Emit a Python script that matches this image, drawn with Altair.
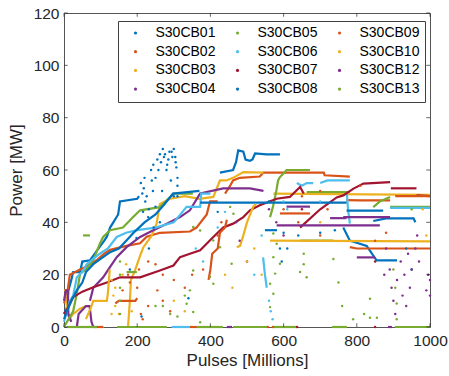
import altair as alt
import pandas as pd

W, H = 366, 314

series = ["S30CB01", "S30CB02", "S30CB03", "S30CB04", "S30CB05", "S30CB06",
          "S30CB07", "S30CB08", "S30CB09", "S30CB10", "S30CB12", "S30CB13"]
colors = ["#0072BD", "#D95319", "#EDB120", "#7E2F8E", "#77AC30", "#4DBEEE",
          "#A2142F", "#0072BD", "#D95319", "#EDB120", "#7E2F8E", "#77AC30"]

x_ticks = [0, 200, 400, 600, 800, 1000]
y_ticks = [0, 20, 40, 60, 80, 100, 120]

# ---- series traces (x in millions of pulses, y in MW) ----
s01_lines = [
    [(0, 5), (10, 8), (12, 14), (20, 18), (25, 21), (44, 21), (50, 25), (71, 25.5), (89, 29), (110, 33),
     (117, 34.5), (126, 38), (148, 43), (153, 48), (200, 49), (205, 50)],
    [(426, 59), (462, 60), (470, 63), (476, 67.5), (490, 67), (496, 64), (508, 63.5), (515, 64),
     (522, 66.3), (553, 66), (590, 66)],
]
s01_dots = [(210, 55), (214, 51), (220, 57), (226, 50), (232, 45), (238, 60), (244, 62), (250, 57), (255, 64),
            (262, 66), (270, 68), (276, 66), (282, 62), (288, 67), (294, 67), (300, 68), (304, 65), (307, 61),
            (310, 57), (300, 50), (268, 52), (250, 46), (245, 38), (232, 30), (262, 40), (292, 56), (280, 60),
            (198, 34), (180, 22), (212, 4), (340, 11), (420, 44), (560, 48), (218, 53), (222, 48), (240, 56),
            (243, 52), (258, 60), (265, 63), (273, 65), (285, 64), (296, 65), (305, 63), (310, 54), (310, 50),
            (230, 42), (216, 44)]

s02_lines = [
    [(0, 9), (8, 12), (16, 20), (44, 22), (60, 23), (89, 25.5), (110, 28), (126, 29.5), (171, 31), (208, 32),
     (226, 34.5), (262, 36), (344, 36.5), (362, 38), (390, 43), (399, 48), (420, 48)],
    [(440, 51), (454, 54), (462, 56), (480, 57), (535, 57.5), (545, 59), (640, 59), (710, 59), (712, 58),
     (781, 57.5)],
    [(771, 48.5), (809, 48.4), (891, 48.4)],
    [(344, 0), (363, 0)],
]
s02_dots = [(420, 35), (430, 40), (600, 45), (650, 50), (700, 52), (810, 54), (557, 0), (571, 0)]

s03_lines = [
    [(0, 14), (5, 14), (8, 6), (15, 3), (25, 5), (44, 7), (60, 8), (71, 8)],
    [(175, 0), (180, 10), (183, 18), (195, 22), (210, 28), (217, 30.5), (240, 35), (253, 39.5), (262, 47),
     (290, 49), (330, 50), (370, 49), (408, 49.7), (426, 56), (444, 56), (462, 57), (490, 59.2), (545, 59)],
    [(572, 51), (1000, 50.5)],
    [(102, 0), (108, 0)],
]
s03_dots = [(130, 18), (135, 12), (140, 8), (150, 5), (160, 20), (170, 24), (185, 6), (300, 10), (330, 6)]

s04_lines = [
    [(0, 10), (5, 14), (10, 14), (12, 5), (20, 2)],
    [(35, 0), (40, 5), (60, 8), (70, 8), (75, 2), (80, 0)],
    [(71, 10), (80, 15), (107, 19), (126, 23), (144, 26.7), (171, 30.5), (208, 34.4), (244, 37), (281, 39.5),
     (317, 42), (344, 44.6), (372, 51), (435, 53), (508, 53), (545, 52)],
    [(608, 46), (672, 46)],
    [(445, 0), (459, 0)],
]
s04_dots = [(560, 45), (580, 40), (600, 35), (470, 40), (480, 33), (500, 25)]

s05_lines = [
    [(0, 0), (25, 6), (35, 12.7), (44, 20.4), (60, 22), (80, 25.5), (98, 31.8), (107, 34.4), (126, 37),
     (161, 38), (189, 42), (208, 44.6), (262, 45.8), (299, 51), (352, 51)],
    [(52, 35), (71, 35)],
    [(171, 21), (199, 21)],
    [(563, 42), (571, 46), (580, 52), (585, 56), (590, 57.3), (599, 58.6), (608, 60), (672, 60)],
    [(663, 51.6), (781, 51.6)],
    [(845, 45.8), (863, 48), (891, 49.7)],
    [(891, 45.9), (1000, 45.9)],
    [(645, 33), (736, 33)],
]
s05_dots = [(454, 45.9), (463, 43.3), (372, 36.9), (353, 38.2), (408, 33.1), (426, 30.5), (458, 24.2),
            (353, 21.6), (399, 19.1), (344, 14), (408, 16.5), (335, 8.9), (353, 5.7), (372, 1.8),
            (572, 35.7), (581, 31.8), (572, 26.7), (590, 24.2), (577, 20.4), (563, 16.5), (572, 12.7),
            (563, 7.6), (655, 28), (655, 24), (645, 21), (663, 19), (736, 26), (750, 17), (836, 10.8),
            (790, 3), (836, 3.5), (855, 3.5), (900, 22), (905, 15), (909, 9), (909, 3), (153, 20), (153, 15),
            (153, 10), (153, 5), (153, 25), (250, 8), (270, 8), (290, 5), (310, 4), (330, 12)]

s06_lines = [
    [(0, 2), (8, 6), (16, 10), (25, 12), (35, 19), (50, 21), (62, 24), (80, 26), (98, 28), (120, 30),
     (144, 34.4), (170, 36), (200, 37), (250, 38), (300, 40), (335, 45.9), (372, 45.9), (375, 51), (400, 51)],
    [(636, 55), (650, 54), (663, 55), (681, 55)],
    [(700, 55), (720, 56), (781, 56)],
    [(773, 51), (776, 45), (781, 39.5)],
    [(544, 26.6), (549, 20), (554, 15)],
    [(891, 45.5), (1000, 45.5)],
    [(294, 0), (344, 0)],
]
s06_dots = [(560, 10), (565, 6), (570, 3), (520, 20), (540, 35), (600, 48), (610, 45), (700, 48), (420, 38),
            (440, 44), (360, 30), (380, 25)]

s07_lines = [
    [(0, 5), (7, 6.3), (25, 11.4), (50, 13.5), (80, 15.2), (117, 17), (153, 19), (208, 19), (262, 21.6),
     (299, 23.5), (317, 26.7), (344, 28), (372, 29.3), (408, 34.4), (435, 38), (462, 39.5), (490, 42),
     (508, 44.6), (535, 46.5), (581, 49), (617, 49.7), (645, 53.5), (655, 51)],
    [(645, 38), (700, 45), (745, 49.5), (763, 50.3), (791, 52.9), (818, 54.8), (891, 55.4)],
    [(893, 53), (963, 53)],
    [(963, 50.3), (1000, 50)],
]
s07_dots = [(637, 0), (850, 0), (650, 45), (850, 25)]

s08_lines = [
    [(0, 3), (8, 6), (20, 10), (35, 14), (50, 17), (60, 21), (80, 24), (100, 26), (126, 28.6), (150, 30),
     (170, 33), (190, 36), (220, 40), (250, 43), (275, 47), (298, 51), (370, 52)],
    [(372, 47.5), (772, 47.5)],
    [(772, 44.5), (872, 44.5)],
    [(845, 40.5), (880, 41.5), (955, 41.5), (960, 40)],
    [(549, 37), (582, 37)],
    [(763, 38), (781, 33), (827, 31), (854, 25.5), (910, 25.5)],
]
s08_dots = [(590, 30), (595, 25), (600, 36), (610, 30), (640, 35), (700, 36), (740, 37), (935, 30), (950, 22)]

s09_lines = [
    [(140, 9), (150, 10), (195, 10), (200, 11)],
    [(395, 18), (400, 22), (405, 28), (420, 30), (426, 36), (440, 38), (445, 41)],
    [(590, 43.4), (672, 43.4)],
    [(781, 30.5), (800, 30), (1000, 30)],
    [(905, 50), (1000, 50)],
    [(79, 0), (107, 0)],
]
s09_dots = [(160, 14), (175, 20), (180, 17), (200, 15), (205, 22), (230, 25), (250, 24), (270, 20), (300, 18),
            (330, 15), (350, 20), (380, 22), (210, 5), (215, 3), (230, 8), (255, 14), (270, 10), (290, 6),
            (640, 40), (700, 35), (720, 45), (850, 33), (880, 36)]

s10_lines = [
    [(60, 3), (75, 8), (80, 10), (117, 10), (120, 13), (125, 22)],
    [(472, 30.5), (481, 31), (490, 35), (500, 40), (517, 46), (525, 47)],
    [(563, 33), (1000, 32.7)],
]
s10_dots = [(440, 20), (460, 15), (500, 25), (520, 30), (540, 20), (700, 40), (980, 45), (990, 35), (130, 5),
            (140, 15)]

s12_lines = [
    [(581, 38.8), (863, 38.8)],
    [(727, 41.6), (772, 41.6)],
    [(763, 42), (891, 42)],
    [(800, 26.6), (850, 26.6)],
    [(885, 0), (896, 0)],
]
s12_dots = [(890, 22), (895, 15), (900, 10), (905, 5), (910, 18), (920, 25), (925, 12), (930, 20), (935, 8),
            (940, 28), (945, 15), (950, 22), (960, 30), (965, 35), (970, 25), (990, 14), (995, 20), (1000, 12),
            (1000, 18), (880, 30), (875, 20)]

s13_lines = [
    [(8, 0), (90, 0)], [(145, 0), (281, 0)], [(363, 0), (434, 0)], [(462, 0), (555, 0)],
    [(571, 0), (637, 0)], [(732, 0), (773, 0)], [(904, 0), (1000, 0)],
]
s13_dots = [(760, 8), (820, 5), (950, 45)]

lines = dict(zip(series, [s01_lines, s02_lines, s03_lines, s04_lines, s05_lines, s06_lines,
                          s07_lines, s08_lines, s09_lines, s10_lines, s12_lines, s13_lines]))
dots = dict(zip(series, [s01_dots, s02_dots, s03_dots, s04_dots, s05_dots, s06_dots,
                         s07_dots, s08_dots, s09_dots, s10_dots, s12_dots, s13_dots]))

line_rows = []
for name in series:
    for si, seg in enumerate(lines[name]):
        for oi, (xv, yv) in enumerate(seg):
            line_rows.append({"series": name, "seg": f"{name}-{si}", "o": oi, "x": xv, "y": yv})
line_df = pd.DataFrame(line_rows)

dot_rows = []
for name in series:
    for (xv, yv) in dots[name]:
        dot_rows.append({"series": name, "x": xv, "y": yv})
dot_df = pd.DataFrame(dot_rows)

FONT = "Liberation Sans"
TXT = "#262626"

xscale = alt.Scale(domain=[0, 1000], nice=False, zero=False)
yscale = alt.Scale(domain=[0, 120], nice=False, zero=False)

xaxis = alt.Axis(values=x_ticks, format="d", title="Pulses [Millions]", grid=False, ticks=False, domain=False,
                 labelFont=FONT, labelFontSize=15.5, labelColor=TXT, labelPadding=6, labelFlush=False,
                 titleFont=FONT, titleFontSize=17, titleFontWeight="normal", titleColor=TXT, titlePadding=4)
yaxis = alt.Axis(values=y_ticks, format="d", title="Power [MW]", grid=False, ticks=False, domain=False,
                 labelFont=FONT, labelFontSize=15.5, labelColor=TXT, labelPadding=5, labelFlush=False,
                 titleFont=FONT, titleFontSize=17, titleFontWeight="normal", titleColor=TXT, titlePadding=8)

line_layer = alt.Chart(line_df).mark_line(strokeWidth=2.2, clip=False).encode(
    x=alt.X("x:Q", scale=xscale, axis=xaxis),
    y=alt.Y("y:Q", scale=yscale, axis=yaxis),
    color=alt.Color("series:N", scale=alt.Scale(domain=series, range=colors), legend=None),
    detail="seg:N",
    order="o:Q",
)

dot_layer = alt.Chart(dot_df).mark_circle(size=6, opacity=1).encode(
    x=alt.X("x:Q", scale=xscale, axis=xaxis),
    y=alt.Y("y:Q", scale=yscale, axis=yaxis),
    color=alt.Color("series:N", scale=alt.Scale(domain=series, range=colors),
                    legend=alt.Legend(title=None, orient="none", legendX=54, legendY=8, columns=3,
                                      direction="vertical",
                                      symbolType="circle", symbolSize=10, symbolStrokeWidth=0,
                                      labelFont=FONT, labelFontSize=14, labelColor="#000000",
                                      labelOffset=13, symbolOffset=5.5, columnPadding=9, rowPadding=4.7,
                                      padding=5, strokeColor="#404040", fillColor="#ffffff")),
)

xt_df = pd.DataFrame({"x": x_ticks})
yt_df = pd.DataFrame({"y": y_ticks})
tick_style = dict(color=TXT, thickness=1, size=3.7)
bottom_ticks = alt.Chart(xt_df).mark_tick(orient="vertical", **tick_style).encode(
    x=alt.X("x:Q", scale=xscale), y=alt.value(H - 1.85))
top_ticks = alt.Chart(xt_df).mark_tick(orient="vertical", **tick_style).encode(
    x=alt.X("x:Q", scale=xscale), y=alt.value(1.85))
left_ticks = alt.Chart(yt_df).mark_tick(orient="horizontal", **tick_style).encode(
    y=alt.Y("y:Q", scale=yscale), x=alt.value(1.85))
right_ticks = alt.Chart(yt_df).mark_tick(orient="horizontal", **tick_style).encode(
    y=alt.Y("y:Q", scale=yscale), x=alt.value(W - 1.85))

chart = alt.layer(
    line_layer, dot_layer, bottom_ticks, top_ticks, left_ticks, right_ticks
).resolve_scale(color="independent").properties(
    width=W, height=H,
    autosize=alt.AutoSizeParams(type="none"),
    padding={"left": 64, "top": 13, "right": 19, "bottom": 49},
    background="#ffffff",
).configure_view(stroke="#555555", strokeWidth=1)

chart.save("out.html", embed_options={"renderer": "svg", "actions": False})
